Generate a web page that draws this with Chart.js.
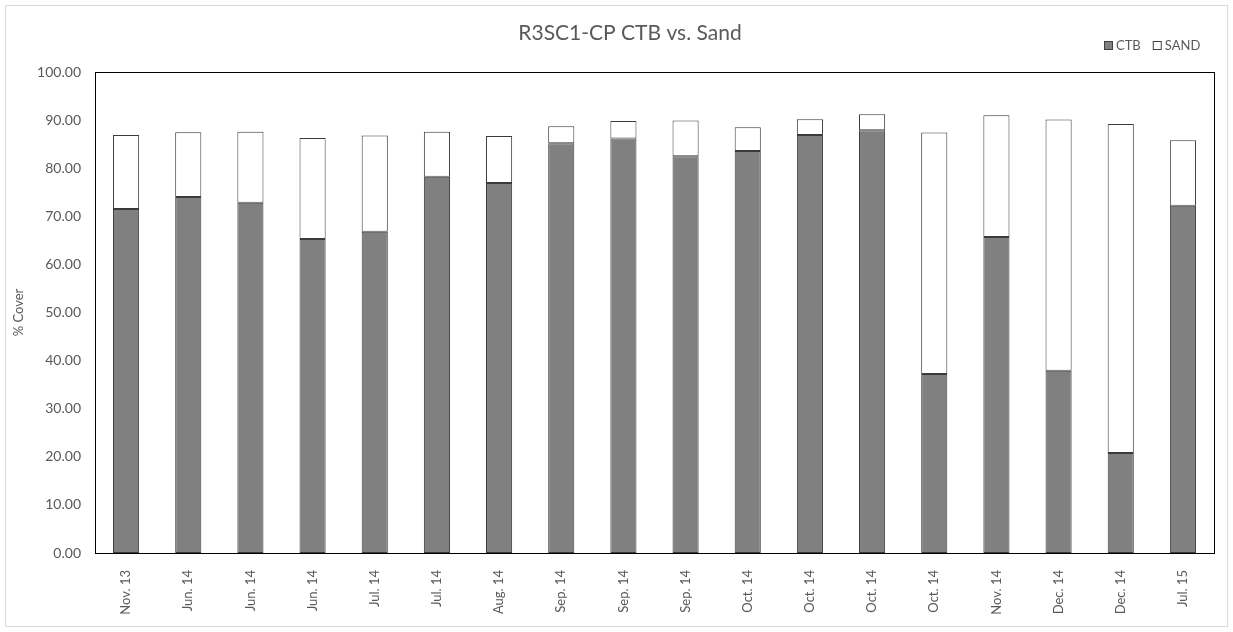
<!DOCTYPE html>
<html>
<head>
<meta charset="utf-8">
<title>R3SC1-CP CTB vs. Sand</title>
<script src="https://cdn.jsdelivr.net/npm/chart.js@4.4.1/dist/chart.umd.min.js"></script>
<style>
  html, body { margin: 0; padding: 0; background: #fff; }
  #wrap { width: 1233px; height: 632px; }
</style>
</head>
<body>
<div id="wrap"><canvas id="chart" width="1233" height="632"></canvas></div>
<script>
// sampling dates
const categories = ['Nov. 13', 'Jun. 14', 'Jun. 14', 'Jun. 14', 'Jul. 14', 'Jul. 14', 'Aug. 14',
    'Sep. 14', 'Sep. 14', 'Sep. 14', 'Oct. 14', 'Oct. 14', 'Oct. 14', 'Oct. 14',
    'Nov. 14', 'Dec. 14', 'Dec. 14', 'Jul. 15'];

// % cover
const ctbValues = [71.5, 74.0, 72.8, 65.3, 66.8, 78.2, 76.9, 85.2, 86.2, 82.5,
    83.6, 86.9, 87.9, 37.2, 65.7, 37.9, 20.8, 72.2];
const sandValues = [15.4, 13.5, 14.8, 21.0, 20.0, 9.4, 9.8, 3.5, 3.6, 7.4,
    4.9, 3.3, 3.3, 50.2, 25.3, 52.2, 68.4, 13.6];

const yTicks = [0, 10, 20, 30, 40, 50, 60, 70, 80, 90, 100];

const FONT = 'Lato, "Open Sans", sans-serif';
const TEXT = '#595959';

// background, outer frame, plot box, title and legend
const decorations = {
    id: 'decorations',
    beforeDraw(chart) {
        const ctx = chart.ctx;
        ctx.save();
        ctx.fillStyle = '#fff';
        ctx.fillRect(0, 0, chart.width, chart.height);
        ctx.strokeStyle = '#d9d9d9';
        ctx.lineWidth = 1;
        ctx.strokeRect(5.5, 5.5, chart.width - 11, chart.height - 11);
        ctx.restore();
    },
    afterDraw(chart) {
        const ctx = chart.ctx;
        const a = chart.chartArea;
        ctx.save();
        ctx.strokeStyle = '#000';
        ctx.lineWidth = 1;
        ctx.strokeRect(Math.round(a.left) + 0.5, Math.round(a.top) + 0.5,
            Math.round(a.right - a.left), Math.round(a.bottom - a.top));

        // title
        ctx.fillStyle = TEXT;
        ctx.font = '21px ' + FONT;
        ctx.textAlign = 'center';
        ctx.textBaseline = 'middle';
        ctx.fillText('R3SC1-CP CTB vs. Sand', 630, 33);

        // legend
        ctx.font = '13px ' + FONT;
        ctx.textAlign = 'left';
        let x = 1104;
        const y = 45;
        chart.data.datasets.forEach(function(ds) {
            ctx.fillStyle = ds.backgroundColor;
            ctx.fillRect(x, y - 4, 9, 9);
            ctx.strokeStyle = '#404040';
            ctx.strokeRect(x + 0.5, y - 3.5, 8, 8);
            ctx.fillStyle = TEXT;
            ctx.fillText(ds.label, x + 12, y + 1);
            x += 12 + ctx.measureText(ds.label).width + 12;
        });
        ctx.restore();
    }
};

new Chart(document.getElementById('chart'), {
    type: 'bar',
    data: {
        labels: categories,
        datasets: [
            {
                label: 'CTB',
                data: ctbValues,
                backgroundColor: '#808080',
                borderColor: '#3a3a3a',
                borderWidth: 1,
                borderSkipped: false
            },
            {
                label: 'SAND',
                data: sandValues,
                backgroundColor: '#ffffff',
                borderColor: '#3a3a3a',
                borderWidth: 1,
                borderSkipped: false
            }
        ]
    },
    options: {
        responsive: false,
        animation: false,
        devicePixelRatio: 1,
        layout: { padding: { top: 72, right: 19, left: 0, bottom: 0 } },
        datasets: {
            bar: { categoryPercentage: 1, barPercentage: 0.42 }
        },
        plugins: {
            legend: { display: false },
            title: { display: false },
            tooltip: { enabled: false }
        },
        scales: {
            x: {
                stacked: true,
                grid: { display: false },
                border: { display: false },
                ticks: {
                    color: TEXT,
                    font: { family: FONT, size: 13 },
                    minRotation: 90,
                    maxRotation: 90,
                    autoSkip: false,
                    padding: 9
                },
                afterFit(scale) { scale.height = 79; }
            },
            y: {
                stacked: true,
                min: 0,
                max: 100,
                grid: { display: false, drawTicks: false },
                border: { display: false },
                afterBuildTicks(scale) {
                    scale.ticks = yTicks.map(function(v) { return { value: v }; });
                },
                ticks: {
                    color: TEXT,
                    font: { family: FONT, size: 14 },
                    padding: 14,
                    callback: function(v) { return Number(v).toFixed(2); }
                },
                title: {
                    display: true,
                    text: '% Cover',
                    color: TEXT,
                    font: { family: FONT, size: 13 },
                    padding: { top: 11, bottom: 0 }
                },
                afterFit(scale) { scale.width = 95; }
            }
        }
    },
    plugins: [decorations]
});
</script>
</body>
</html>
